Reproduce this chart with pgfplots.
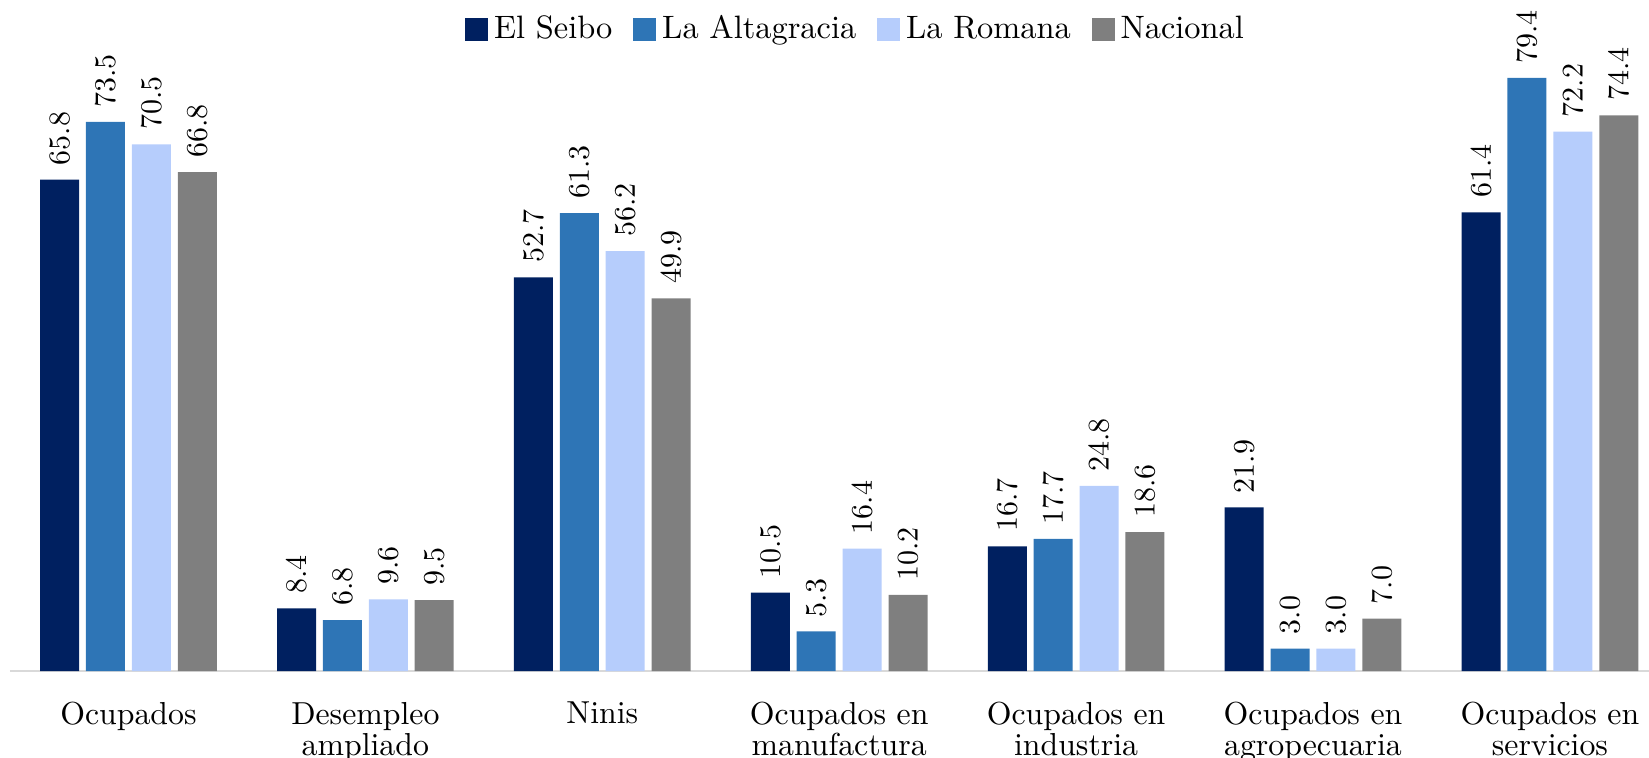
\documentclass[border=0pt]{standalone}
\usepackage{pgfplots}
\pgfplotsset{compat=1.18}
\definecolor{cA}{RGB}{0,32,96}
\definecolor{cB}{RGB}{46,117,182}
\definecolor{cC}{RGB}{182,205,252}
\definecolor{cD}{RGB}{127,127,127}
\definecolor{base}{RGB}{217,217,217}
\begin{document}
\begin{tikzpicture}
\useasboundingbox (-3.33pt,-28.67pt) rectangle (546.33pt,223.67pt);
\begin{axis}[
  x=78.97pt, y=2.49pt,
  xmin=-0.5, xmax=6.42, ymin=0, ymax=85,
  ybar=2.3pt, bar width=13pt,
  axis y line=none,
  axis x line*=bottom,
  x axis line style={draw=base, line width=0.8pt},
  major tick length=0pt,
  xtick={0,1,2,3,4,5,6},
  xticklabels={Ocupados,{Desempleo\\ampliado},Ninis,{Ocupados en\\manufactura},{Ocupados en\\industria},{Ocupados en\\agropecuaria},{Ocupados en\\servicios}},
  xticklabel style={align=center, font=\fontsize{10.6}{10.4}\selectfont, yshift=-6.8pt},
  clip=false,
  nodes near coords,
  nodes near coords style={rotate=90, anchor=west, inner xsep=4.6pt, font=\fontsize{10.2}{12}\selectfont, /pgf/number format/.cd, fixed, fixed zerofill, precision=1},
  legend style={at={(0.517,1.0106)}, anchor=center, draw=none, legend columns=-1, font=\fontsize{10.8}{13}\selectfont, /tikz/every even column/.append style={column sep=5pt}},
  legend image code/.code={\fill[#1] (0pt,-0.38em) rectangle (0.76em,0.38em);},
]
\addplot[fill=cA, draw=none] coordinates {(0,65.8) (1,8.4) (2,52.7) (3,10.5) (4,16.7) (5,21.9) (6,61.4)};
\addplot[fill=cB, draw=none] coordinates {(0,73.5) (1,6.8) (2,61.3) (3,5.3) (4,17.7) (5,3.0) (6,79.4)};
\addplot[fill=cC, draw=none] coordinates {(0,70.5) (1,9.6) (2,56.2) (3,16.4) (4,24.8) (5,3.0) (6,72.2)};
\addplot[fill=cD, draw=none] coordinates {(0,66.8) (1,9.5) (2,49.9) (3,10.2) (4,18.6) (5,7.0) (6,74.4)};
\legend{El Seibo, La Altagracia, La Romana, Nacional}
\end{axis}
\end{tikzpicture}
\end{document}
